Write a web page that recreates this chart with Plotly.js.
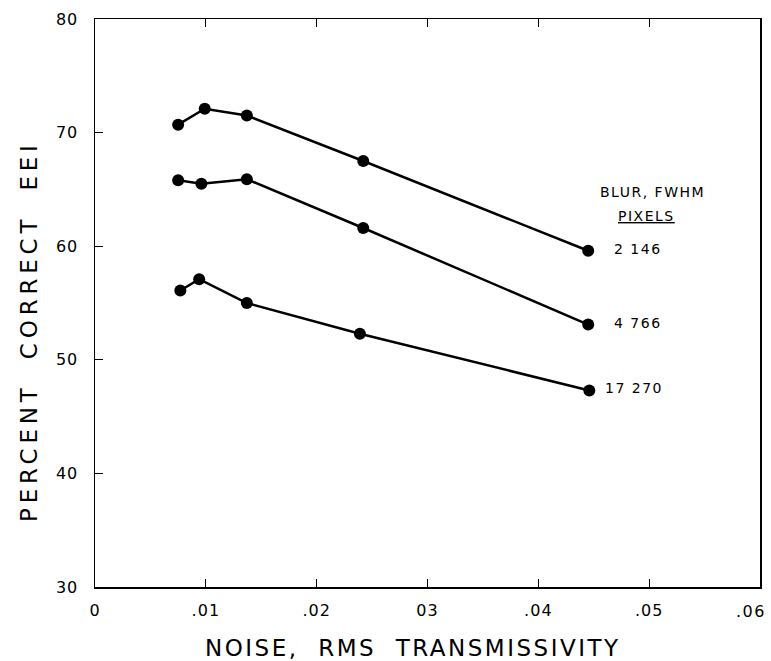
<!DOCTYPE html>
<html>
<head>
<meta charset="utf-8">
<script src="https://cdn.plot.ly/plotly-3.0.1.min.js"></script>
<style>
html,body{margin:0;padding:0;background:#fff;}
#chart{width:771px;height:661px;}
.annotation-text{letter-spacing:1.5px;}
.xtick text,.ytick text{letter-spacing:1px;}
</style>
</head>
<body>
<div id="chart"></div>
<script>
// Blur (FWHM, pixels) series
const blurLabels = ["2 146", "4 766", "17 270"];
const noise2146 = [0.0075, 0.0099, 0.0137, 0.0242, 0.0445];
const pct2146   = [70.7, 72.1, 71.5, 67.5, 59.6];
const noise4766 = [0.0075, 0.0096, 0.0137, 0.0242, 0.0445];
const pct4766   = [65.8, 65.5, 65.9, 61.6, 53.1];
const noise17270 = [0.0077, 0.0094, 0.0137, 0.0239, 0.0446];
const pct17270   = [56.1, 57.1, 55.0, 52.3, 47.3];

const xTickVals = [0, 0.01, 0.02, 0.03, 0.04, 0.05, 0.06];
const xTickText = ["0", ".01", ".02", "03", ".04", ".05", ""];
const lastXTick = ".06";
const yTickVals = [30, 40, 50, 60, 70, 80];
const xTitle = "NOISE,  RMS  TRANSMISSIVITY";
const yTitle = "PERCENT  CORRECT  EEI";

const FONT = "DejaVu Sans, Liberation Sans, sans-serif";
const series = [[noise2146, pct2146], [noise4766, pct4766], [noise17270, pct17270]];
const traces = series.map((s, i) => ({
  x: s[0], y: s[1], type: "scatter", mode: "lines+markers",
  name: blurLabels[i],
  line: {color: "#000", width: 2.5},
  marker: {color: "#000", size: 12},
  showlegend: false, cliponaxis: false
}));

const annotations = series.map((s, i) => ({
  x: s[0][s[0].length - 1], y: s[1][s[1].length - 1],
  xref: "x", yref: "y", text: blurLabels[i], showarrow: false,
  xanchor: "right", xshift: 76, yshift: 2,
  font: {family: FONT, size: 14, color: "#000"}
}));
annotations.push({
  xref: "paper", yref: "paper", x: 0.839, y: 0.6954, text: "BLUR, FWHM",
  showarrow: false, xanchor: "center", yanchor: "middle",
  font: {family: FONT, size: 14, color: "#000"}
});
annotations.push({
  xref: "paper", yref: "paper", x: 0.830, y: 0.653, text: "<u>PIXELS</u>",
  showarrow: false, xanchor: "center", yanchor: "middle",
  font: {family: FONT, size: 14, color: "#000"}
});
// last x tick label, right-aligned so it stays inside the page
annotations.push({
  xref: "x", yref: "paper", x: 0.06, y: 0, text: lastXTick,
  showarrow: false, xanchor: "right", yanchor: "top", xshift: 8, yshift: -13,
  font: {family: FONT, size: 16, color: "#000"}
});
// axis titles
annotations.push({
  xref: "paper", yref: "paper", x: 0.478, y: -0.1074, showarrow: false,
  xanchor: "center", yanchor: "middle",
  text: '<span style="letter-spacing:2.5px">' + xTitle + '</span>',
  font: {family: FONT, size: 23, color: "#000"}
});
annotations.push({
  xref: "paper", yref: "paper", x: -0.0992, y: 0.4507, showarrow: false,
  xanchor: "center", yanchor: "middle", textangle: -90,
  text: '<span style="letter-spacing:4.8px">' + yTitle + '</span>',
  font: {family: FONT, size: 23, color: "#000"}
});

const layout = {
  width: 771, height: 661,
  paper_bgcolor: "#fff", plot_bgcolor: "#fff",
  margin: {l: 95, r: 11, t: 19, b: 74},
  showlegend: false,
  xaxis: {
    range: [0, 0.06], tickvals: xTickVals, ticktext: xTickText,
    ticks: "inside", ticklen: 8, tickwidth: 1.2, tickcolor: "#000",
    showline: true, linecolor: "#000", linewidth: 1.5, mirror: "ticks",
    showgrid: false, zeroline: false,
    ticklabelstandoff: 8,
    tickfont: {family: FONT, size: 16, color: "#000"}
  },
  yaxis: {
    range: [30, 80], tickvals: yTickVals,
    ticks: "inside", ticklen: 8, tickwidth: 1.2, tickcolor: "#000",
    showline: true, linecolor: "#000", linewidth: 1.5, mirror: true,
    showgrid: false, zeroline: false,
    ticklabelstandoff: 12,
    tickfont: {family: FONT, size: 16, color: "#000"}
  },
  annotations: annotations
};

Plotly.newPlot("chart", traces, layout, {staticPlot: true, displayModeBar: false});
</script>
</body>
</html>
